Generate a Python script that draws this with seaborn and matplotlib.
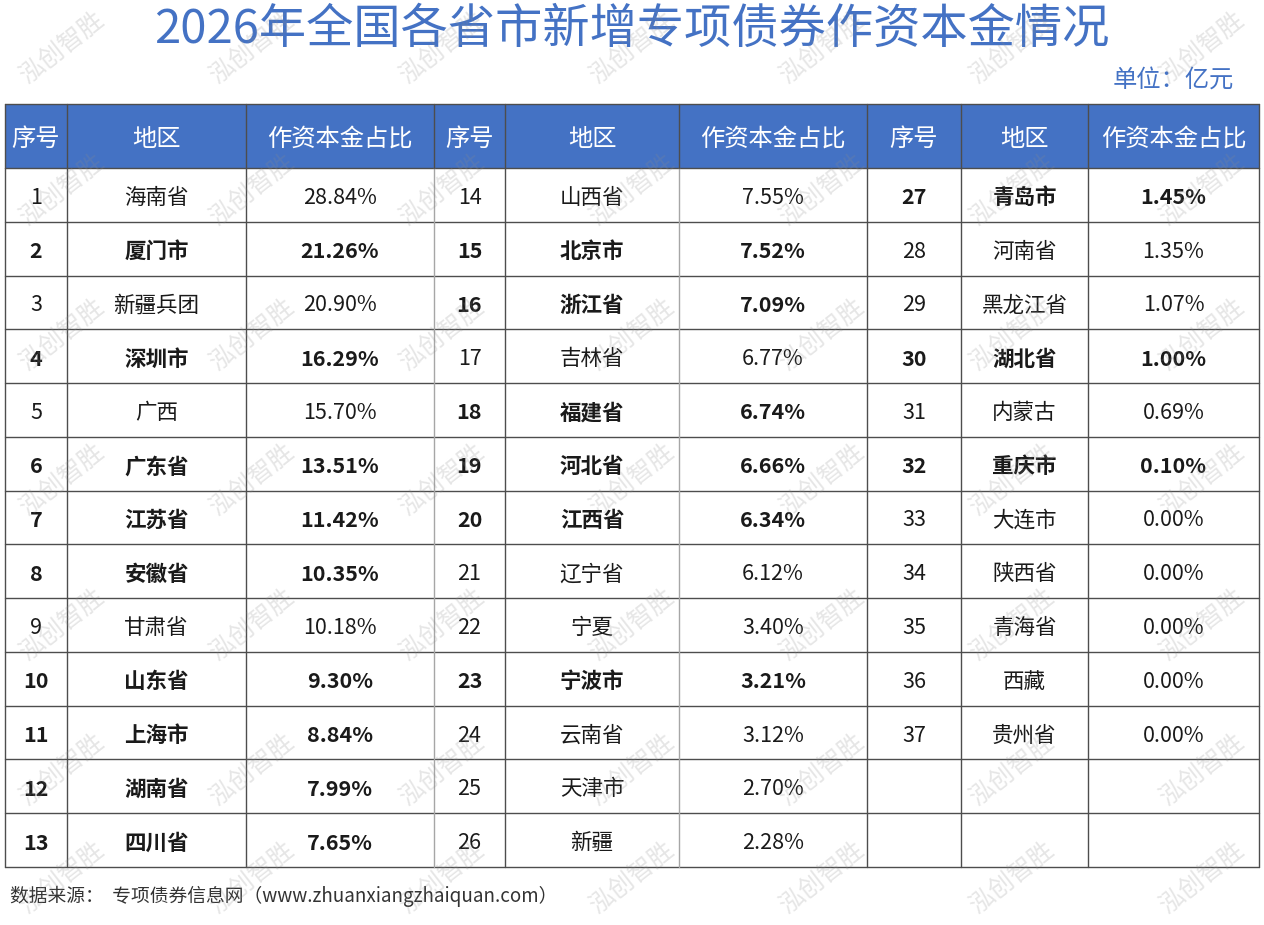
import matplotlib
matplotlib.use("Agg")
import matplotlib.pyplot as plt
import seaborn as sns

# data
seq = [1, 2, 3, 4, 5, 6, 7, 8, 9, 10, 11, 12, 13,
       14, 15, 16, 17, 18, 19, 20, 21, 22, 23, 24, 25, 26,
       27, 28, 29, 30, 31, 32, 33, 34, 35, 36, 37]
regions = ["海南省", "厦门市", "新疆兵团", "深圳市", "广西", "广东省", "江苏省",
           "安徽省", "甘肃省", "山东省", "上海市", "湖南省", "四川省",
           "山西省", "北京市", "浙江省", "吉林省", "福建省", "河北省", "江西省",
           "辽宁省", "宁夏", "宁波市", "云南省", "天津市", "新疆",
           "青岛市", "河南省", "黑龙江省", "湖北省", "内蒙古", "重庆市",
           "大连市", "陕西省", "青海省", "西藏", "贵州省"]
shares = [28.84, 21.26, 20.90, 16.29, 15.70, 13.51, 11.42, 10.35, 10.18, 9.30, 8.84, 7.99, 7.65,
          7.55, 7.52, 7.09, 6.77, 6.74, 6.66, 6.34, 6.12, 3.40, 3.21, 3.12, 2.70, 2.28,
          1.45, 1.35, 1.07, 1.00, 0.69, 0.10, 0.00, 0.00, 0.00, 0.00, 0.00]
bold = [0, 1, 0, 1, 0, 1, 1, 1, 0, 1, 1, 1, 1,
        0, 1, 1, 0, 1, 1, 1, 0, 0, 1, 0, 0, 0,
        1, 0, 0, 1, 0, 1, 0, 0, 0, 0, 0]
headers = ["序号", "地区", "作资本金占比"]

title = "2026年全国各省市新增专项债券作资本金情况"
unit = "单位：亿元"
source = "数据来源：  专项债券信息网（www.zhuanxiangzhaiquan.com）"

# style
sns.set_theme(style="white")
plt.rcParams["font.family"] = ["Noto Sans CJK SC", "DejaVu Sans"]

blue = "#4472C4"
line_dark = "#4d4d4d"
line_light = "#a6a6a6"

col_edges = [5, 67, 246, 434, 505, 679, 867, 961, 1088, 1259]
table_top = 104
header_h = 64
rows_per_block = 13
row_h = (867 - table_top - header_h) / rows_per_block
dy = 3  # Noto sits a little high when centred

fig = plt.figure(figsize=(12.64, 9.25), dpi=100)
ax = fig.add_axes([0, 0, 1, 1])
ax.set_xlim(0, 1264)
ax.set_ylim(925, 0)
ax.axis("off")

# header band
ax.fill_between([col_edges[0], col_edges[-1]], table_top, table_top + header_h,
                color=blue, lw=0, zorder=1)
for b in range(3):
    for c in range(3):
        x0, x1 = col_edges[b * 3 + c], col_edges[b * 3 + c + 1]
        ax.text((x0 + x1) / 2, table_top + header_h / 2 + dy, headers[c], color="white",
                fontsize=17.5, ha="center", va="center", zorder=3)

# body
y_start = table_top + header_h
for i, (s, r, v, bw) in enumerate(zip(seq, regions, shares, bold)):
    b, row = divmod(i, rows_per_block)
    yc = y_start + (row + 0.5) * row_h + dy
    w = "bold" if bw else "normal"
    vals = [str(s), r, f"{v:.2f}%"]
    for c in range(3):
        x0, x1 = col_edges[b * 3 + c], col_edges[b * 3 + c + 1]
        ax.text((x0 + x1) / 2, yc, vals[c], color="#1a1a1a", fontsize=15.5,
                fontweight=w, ha="center", va="center", zorder=3)

# grid lines
table_bottom = y_start + rows_per_block * row_h
for k in range(rows_per_block + 1):
    y = y_start + k * row_h
    ax.plot([col_edges[0], col_edges[-1]], [y, y], color=line_dark, lw=1, zorder=2)
ax.plot([col_edges[0], col_edges[-1]], [table_top, table_top], color=line_dark, lw=1, zorder=2)
for x in col_edges:
    c = line_light if x in (434, 679) else line_dark
    ax.plot([x, x], [y_start, table_bottom], color=c, lw=1, zorder=2)
    ax.plot([x, x], [table_top, y_start], color=line_dark, lw=1, zorder=2)

# titles
ax.text(632, 30, title, color=blue, fontsize=34, ha="center", va="center", zorder=3)
ax.text(1234, 80, unit, color=blue, fontsize=17.5, ha="right", va="center", zorder=3)
ax.text(10, 896, source, color="#333333", fontsize=13.5, ha="left", va="center", zorder=3)

# watermark
for wx in [62, 252, 442, 632, 822, 1012, 1202]:
    for wy in [48, 190, 335, 480, 625, 770, 878]:
        ax.text(wx, wy, "泓创智胜", color="#8c8c8c", alpha=0.22, fontsize=18,
                rotation=38, ha="center", va="center", zorder=4)

fig.savefig("out.png", dpi=100, facecolor="white")
